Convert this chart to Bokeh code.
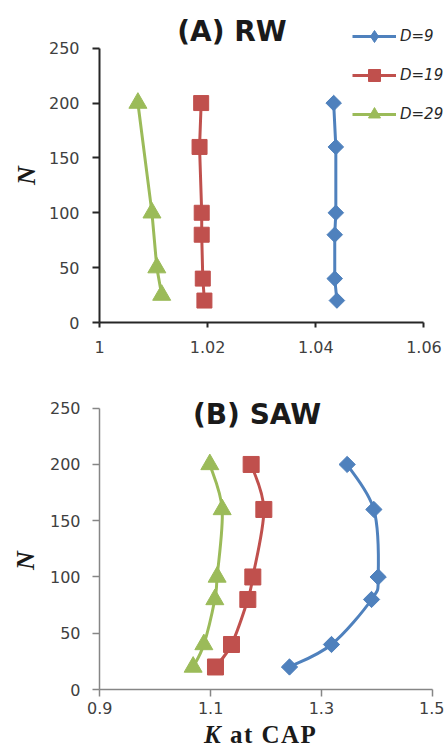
import numpy as np
from bokeh.plotting import figure
from bokeh.layouts import column
from bokeh.models import FixedTicker, Label, Legend, LegendItem, Title, Div
from bokeh.embed import file_html
from bokeh.resources import INLINE

# ---------------- data ----------------
series_labels = ["D=9", "D=19", "D=29"]
series_colors = ["#4F81BD", "#C0504D", "#9BBB59"]

# (A) RW
rw_n_9 = [20, 40, 80, 100, 160, 200]
rw_k_9 = [1.0439, 1.0435, 1.0435, 1.0437, 1.0437, 1.0433]
rw_n_19 = [20, 40, 80, 100, 160, 200]
rw_k_19 = [1.0194, 1.0191, 1.0189, 1.0189, 1.0185, 1.0188]
rw_n_29 = [25, 50, 100, 200]
rw_k_29 = [1.0115, 1.0106, 1.0097, 1.0071]

# (B) SAW
saw_n = [20, 40, 80, 100, 160, 200]
saw_k_9 = [1.2424, 1.3182, 1.3905, 1.4025, 1.3947, 1.3465]
saw_k_19 = [1.1088, 1.1377, 1.1672, 1.1762, 1.1961, 1.1732]
saw_k_29 = [1.0685, 1.0878, 1.1076, 1.1118, 1.1209, 1.0986]

rw_xticks = [1, 1.02, 1.04, 1.06]
rw_xtick_labels = ["1", "1.02", "1.04", "1.06"]
saw_xticks = [0.9, 1.1, 1.3, 1.5]
saw_xtick_labels = ["0.9", "1.1", "1.3", "1.5"]
n_ticks = [0, 50, 100, 150, 200, 250]

TICK_FONT = "DejaVu Sans"
SERIF = "Liberation Serif"
W = 444

# plot markers (marker, angle) and legend markers
marker_styles = [("square", np.pi / 4), ("square", 0.0), ("triangle", 0.0)]
legend_markers = ["diamond", "square", "triangle"]


def style_axes(p, xticks, xlabels, xbounds, axis_color, axis_width,
               xtick_out, ytick_out, xstand, ystand):
    p.xgrid.grid_line_color = None
    p.ygrid.grid_line_color = None
    p.outline_line_color = None
    p.xaxis.ticker = FixedTicker(ticks=xticks)
    p.xaxis.major_label_overrides = dict(zip(xticks, xlabels))
    p.yaxis.ticker = FixedTicker(ticks=n_ticks)
    p.xaxis.bounds = xbounds
    p.yaxis.bounds = (n_ticks[0], n_ticks[-1])
    for ax in (p.xaxis, p.yaxis):
        ax.axis_line_color = axis_color
        ax.axis_line_width = axis_width
        ax.major_tick_line_color = axis_color
        ax.major_tick_line_width = axis_width
        ax.minor_tick_line_color = None
        ax.major_tick_in = 0
        ax.major_label_text_font = TICK_FONT
        ax.major_label_text_font_size = "16px"
        ax.major_label_text_color = "#404040"
    p.xaxis.major_tick_out = xtick_out
    p.yaxis.major_tick_out = ytick_out
    p.xaxis.major_label_standoff = xstand
    p.yaxis.major_label_standoff = ystand


def add_series(p, xs, ys, color, style, size, legend_marker, smooth=False):
    marker, angle = style
    if smooth:
        x = np.asarray(xs, float)
        y = np.asarray(ys, float)
        n = len(x)
        xp = np.concatenate([[x[0]], x, [x[-1]]])
        yp = np.concatenate([[y[0]], y, [y[-1]]])
        cx0 = xp[1:n] + (xp[2:n + 1] - xp[0:n - 1]) / 6.0
        cy0 = yp[1:n] + (yp[2:n + 1] - yp[0:n - 1]) / 6.0
        cx1 = xp[2:n + 1] - (xp[3:n + 2] - xp[1:n]) / 6.0
        cy1 = yp[2:n + 1] - (yp[3:n + 2] - yp[1:n]) / 6.0
        lr = p.bezier(x0=x[:-1], y0=y[:-1], x1=x[1:], y1=y[1:],
                      cx0=cx0, cy0=cy0, cx1=cx1, cy1=cy1,
                      line_color=color, line_width=3)
    else:
        lr = p.line(xs, ys, line_color=color, line_width=3)
    sr = p.scatter(xs, ys, marker=marker, angle=angle, size=size,
                   fill_color=color, line_color=color)
    # same points with the legend's marker shape (hidden beneath sr)
    if legend_marker != marker:
        lm = p.scatter(xs, ys, marker=legend_marker, size=size * 1.3,
                       fill_color=color, line_color=color)
    else:
        lm = sr
    return lr, lm


def n_title(offset, standoff):
    return Title(text="N", align="left", offset=offset, standoff=standoff,
                 text_font=SERIF, text_font_style="bold italic",
                 text_font_size="26px", text_color="#1a1a1a")


# ---------------- (A) RW ----------------
# frame: left edge 96px, x=1.06 at 423.3px; y=0 at 322px, y=250 at 47.7px
a_left, a_h, a_bottom = 96, 370, 48
a_pxu_x = (423.3 - a_left) / (rw_xticks[-1] - rw_xticks[0])
a_pxu_y = (a_h - a_bottom - 47.7) / n_ticks[-1]
a_xend = rw_xticks[0] + (W - a_left) / a_pxu_x
a_yend = (a_h - a_bottom) / a_pxu_y

p1 = figure(width=W, height=a_h, x_range=(rw_xticks[0], a_xend),
            y_range=(0, a_yend), output_backend="svg", toolbar_location=None,
            min_border_left=a_left, min_border_right=0,
            min_border_top=0, min_border_bottom=a_bottom)
style_axes(p1, rw_xticks, rw_xtick_labels, (rw_xticks[0], rw_xticks[-1]),
           "#262626", 2, 5, 7, 13, 13)

rw_data = [(rw_k_9, rw_n_9), (rw_k_19, rw_n_19), (rw_k_29, rw_n_29)]
rw_sizes = [11, 15, 18]
items = []
for (k, n), lab, col, st, sz, lmk in zip(rw_data, series_labels,
                                         series_colors, marker_styles,
                                         rw_sizes, legend_markers):
    lr, lm = add_series(p1, k, n, col, st, sz, lmk)
    items.append(LegendItem(label=lab, renderers=[lr, lm]))

legend = Legend(items=items, location=(253, 193), orientation="vertical",
                glyph_width=44, glyph_height=30, label_height=30,
                spacing=9, padding=0, margin=0, label_standoff=4,
                label_text_font=TICK_FONT, label_text_font_style="italic",
                label_text_font_size="15px", label_text_color="#262626",
                border_line_color=None, background_fill_alpha=0)
p1.add_layout(legend, "center")

p1.add_layout(Label(x=1.0245, y=265.5, text="(A) RW", text_font=TICK_FONT,
                    text_font_style="bold", text_font_size="28px",
                    text_color="#1a1a1a", text_align="center",
                    text_baseline="middle"))
# N centred at y=175px: frame bottom at 322px, half glyph ~9.5px
p1.add_layout(n_title(322 - 175 - 9.5, 9), "left")

# ---------------- (B) SAW ----------------
b_left, b_h, b_bottom = 99, 350, 31
b_pxu_x = (431.7 - 99.3) / (saw_xticks[-1] - saw_xticks[0])
b_pxu_y = (319 - 37.7) / n_ticks[-1]
b_xstart = saw_xticks[0] - (99.3 - b_left) / b_pxu_x
b_xend = saw_xticks[0] + (W - 99.3) / b_pxu_x
b_yend = (b_h - b_bottom) / b_pxu_y

p2 = figure(width=W, height=b_h, x_range=(b_xstart, b_xend),
            y_range=(0, b_yend), output_backend="svg", toolbar_location=None,
            min_border_left=b_left, min_border_right=0,
            min_border_top=0, min_border_bottom=b_bottom)
style_axes(p2, saw_xticks, saw_xtick_labels, (saw_xticks[0], saw_xticks[-1]),
           "#868686", 1.5, 7, 7, 5, 12)

saw_data = [saw_k_9, saw_k_19, saw_k_29]
saw_sizes = [11.5, 16, 18]
for k, col, st, sz in zip(saw_data, series_colors, marker_styles, saw_sizes):
    add_series(p2, k, saw_n, col, st, sz, st[0], smooth=True)

p2.add_layout(Label(x=1.1838, y=244.4, text="(B) SAW", text_font=TICK_FONT,
                    text_font_style="bold", text_font_size="28px",
                    text_color="#1a1a1a", text_align="center",
                    text_baseline="middle"))
# N centred at y=560px (page) -> 190px local; frame bottom at 319px
p2.add_layout(n_title(319 - 190 - 9.5, 14), "left")

# ---------------- x-axis title (K italic, rest upright) ----------------
d_h = 749 - a_h - b_h
xlabel = Div(text="<b><i>K</i> at CAP</b>", width=W - 204, height=d_h,
             margin=(0, 0, 0, 204),
             styles={"font-family": "'Liberation Serif', serif",
                     "font-size": "25px", "line-height": "%dpx" % d_h,
                     "letter-spacing": "1.5px",
                     "color": "#1a1a1a", "white-space": "nowrap"})

layout = column(p1, p2, xlabel, spacing=0)
open("out.html", "w").write(file_html(layout, INLINE))
